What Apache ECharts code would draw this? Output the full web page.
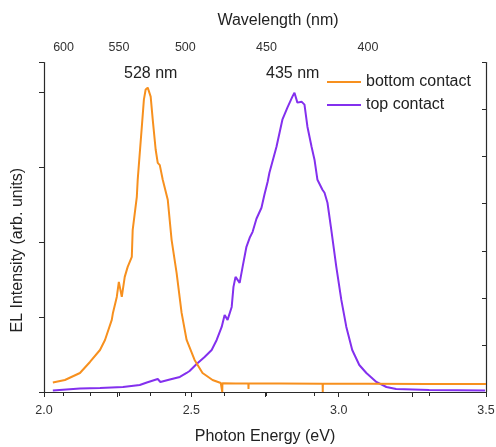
<!DOCTYPE html>
<html>
<head>
<meta charset="utf-8">
<script src="https://cdn.jsdelivr.net/npm/echarts@6/dist/echarts.min.js"></script>
<style>html,body{margin:0;padding:0;background:#fff;}#c{width:496px;height:447px;}</style>
</head>
<body>
<div id="c"></div>
<script>
// Photon energy (eV) and EL intensity (arb. units)
const bottomEnergy = [2.030,2.071,2.122,2.156,2.190,2.207,2.230,2.234,2.247,2.254,2.264,2.274,2.284,2.298,2.301,2.315,2.318,2.332,2.339,2.345,2.352,2.362,2.369,2.379,2.386,2.393,2.403,2.420,2.433,2.450,2.467,2.484,2.511,2.538,2.572,2.600,2.6045,2.605,2.6055,2.650,2.6935,2.694,2.6945,2.800,2.9455,2.946,2.9465,3.100,3.300,3.500];
const bottomIntensity = [0.127,0.160,0.254,0.401,0.561,0.695,0.963,1.056,1.270,1.470,1.270,1.537,1.671,1.805,2.166,2.607,2.834,3.543,3.904,4.040,4.064,3.944,3.636,3.235,3.060,3.030,2.834,2.567,2.032,1.590,1.056,0.695,0.428,0.254,0.160,0.120,0.117,0.000,0.117,0.115,0.113,0.040,0.113,0.112,0.110,0.000,0.110,0.110,0.108,0.107];
const topEnergy = [2.030,2.122,2.190,2.268,2.325,2.349,2.386,2.389,2.395,2.427,2.461,2.484,2.494,2.518,2.545,2.569,2.586,2.603,2.613,2.623,2.637,2.643,2.650,2.664,2.674,2.687,2.698,2.708,2.721,2.738,2.748,2.759,2.765,2.789,2.809,2.826,2.843,2.850,2.860,2.874,2.884,2.894,2.908,2.918,2.928,2.945,2.952,2.962,2.975,2.992,3.009,3.026,3.046,3.070,3.094,3.128,3.162,3.195,3.307,3.497];
const topIntensity = [0.020,0.047,0.053,0.067,0.094,0.127,0.174,0.187,0.134,0.167,0.201,0.254,0.281,0.374,0.468,0.561,0.695,0.869,1.029,0.963,1.136,1.404,1.537,1.457,1.671,1.939,2.059,2.139,2.313,2.460,2.634,2.807,2.928,3.275,3.636,3.797,3.944,3.997,3.864,3.877,3.837,3.543,3.275,3.102,2.834,2.701,2.660,2.527,2.166,1.671,1.230,0.869,0.561,0.361,0.254,0.134,0.067,0.040,0.027,0.020];
const seriesNames = ['bottom contact','top contact'];
const energyTicks = [2.0,2.5,3.0,3.5];
const wavelengthLabels = [600,550,500,450,400];
const wavelengthTicks = [600,575,550,525,500,475,450,425,400,375];
const peakLabels = ['528 nm','435 nm'];

const HC = 1239.84; // eV*nm
const FONT = 'Liberation Sans, Arial, sans-serif';
const ORANGE = '#F7901E';
const PURPLE = '#8330EE';
const AX = '#2a2a2a';

const zip = (a,b) => a.map((x,i) => [x,b[i]]);

const chart = echarts.init(document.getElementById('c'), null, {renderer:'canvas'});
chart.setOption({
  animation:false,
  backgroundColor:'#fff',
  textStyle:{fontFamily:FONT},
  grid:{left:44,right:10,top:62.5,bottom:55,containLabel:false,outerBoundsMode:'none'},
  xAxis:[{
    type:'value', position:'bottom', min:2, max:3.5, interval:0.25,
    name:'Photon Energy (eV)', nameLocation:'middle', nameGap:37,
    nameTextStyle:{fontSize:16,color:'#222',fontFamily:FONT},
    axisLine:{lineStyle:{color:AX,width:1.2}},
    axisTick:{length:5,lineStyle:{color:AX}},
    axisLabel:{fontSize:12.5,color:'#333',margin:12,fontFamily:FONT,
      formatter:v => energyTicks.some(t => Math.abs(t-v)<1e-6) ? v.toFixed(1) : ''},
    splitLine:{show:false}
  },{
    type:'value', position:'top', min:2, max:3.5,
    name:'Wavelength (nm)', nameLocation:'middle', nameGap:34,
    nameTextStyle:{fontSize:16,color:'#222',fontFamily:FONT,padding:[0,0,0,26]},
    axisLine:{lineStyle:{color:AX,width:1.2}},
    axisTick:{inside:true,length:4,lineStyle:{color:AX},customValues:wavelengthTicks.map(w=>HC/w)},
    axisLabel:{fontSize:12.5,color:'#333',margin:8,fontFamily:FONT,
      customValues:wavelengthLabels.map(w=>HC/w), formatter:v => String(Math.round(HC/v))},
    splitLine:{show:false}
  }],
  yAxis:[{
    type:'value', position:'left', min:0, max:4.4, interval:1,
    name:'EL Intensity (arb. units)', nameLocation:'middle', nameGap:18,
    nameTextStyle:{fontSize:16,color:'#222',fontFamily:FONT,padding:[0,0,0,-46]},
    axisLine:{show:true,lineStyle:{color:AX,width:1.2}},
    axisTick:{show:true,length:5,lineStyle:{color:AX}},
    axisLabel:{show:false},
    splitLine:{show:false}
  },{
    type:'value', position:'right', min:0, max:7, interval:1,
    axisLine:{show:true,lineStyle:{color:AX,width:1.2}},
    axisTick:{show:true,inside:true,length:4,lineStyle:{color:AX}},
    axisLabel:{show:false},
    splitLine:{show:false}
  }],
  legend:{
    orient:'vertical', left:322, top:69, itemWidth:34, itemHeight:2, itemGap:7,
    icon:'rect',
    textStyle:{fontSize:16,color:'#222',fontFamily:FONT},
    data:seriesNames
  },
  series:[{
    name:seriesNames[0], type:'line', xAxisIndex:0, yAxisIndex:0,
    data:zip(bottomEnergy,bottomIntensity), showSymbol:false, symbol:'none',
    lineStyle:{color:ORANGE,width:2}, itemStyle:{color:ORANGE}, z:3
  },{
    name:seriesNames[1], type:'line', xAxisIndex:0, yAxisIndex:0,
    data:zip(topEnergy,topIntensity), showSymbol:false, symbol:'none',
    lineStyle:{color:PURPLE,width:2}, itemStyle:{color:PURPLE}, z:2
  }],
  graphic:[
    {type:'text', left:124, top:66, style:{text:peakLabels[0], font:'16px '+FONT, fill:'#222'}},
    {type:'text', left:266, top:66, style:{text:peakLabels[1], font:'16px '+FONT, fill:'#222'}}
  ]
});
</script>
</body>
</html>
